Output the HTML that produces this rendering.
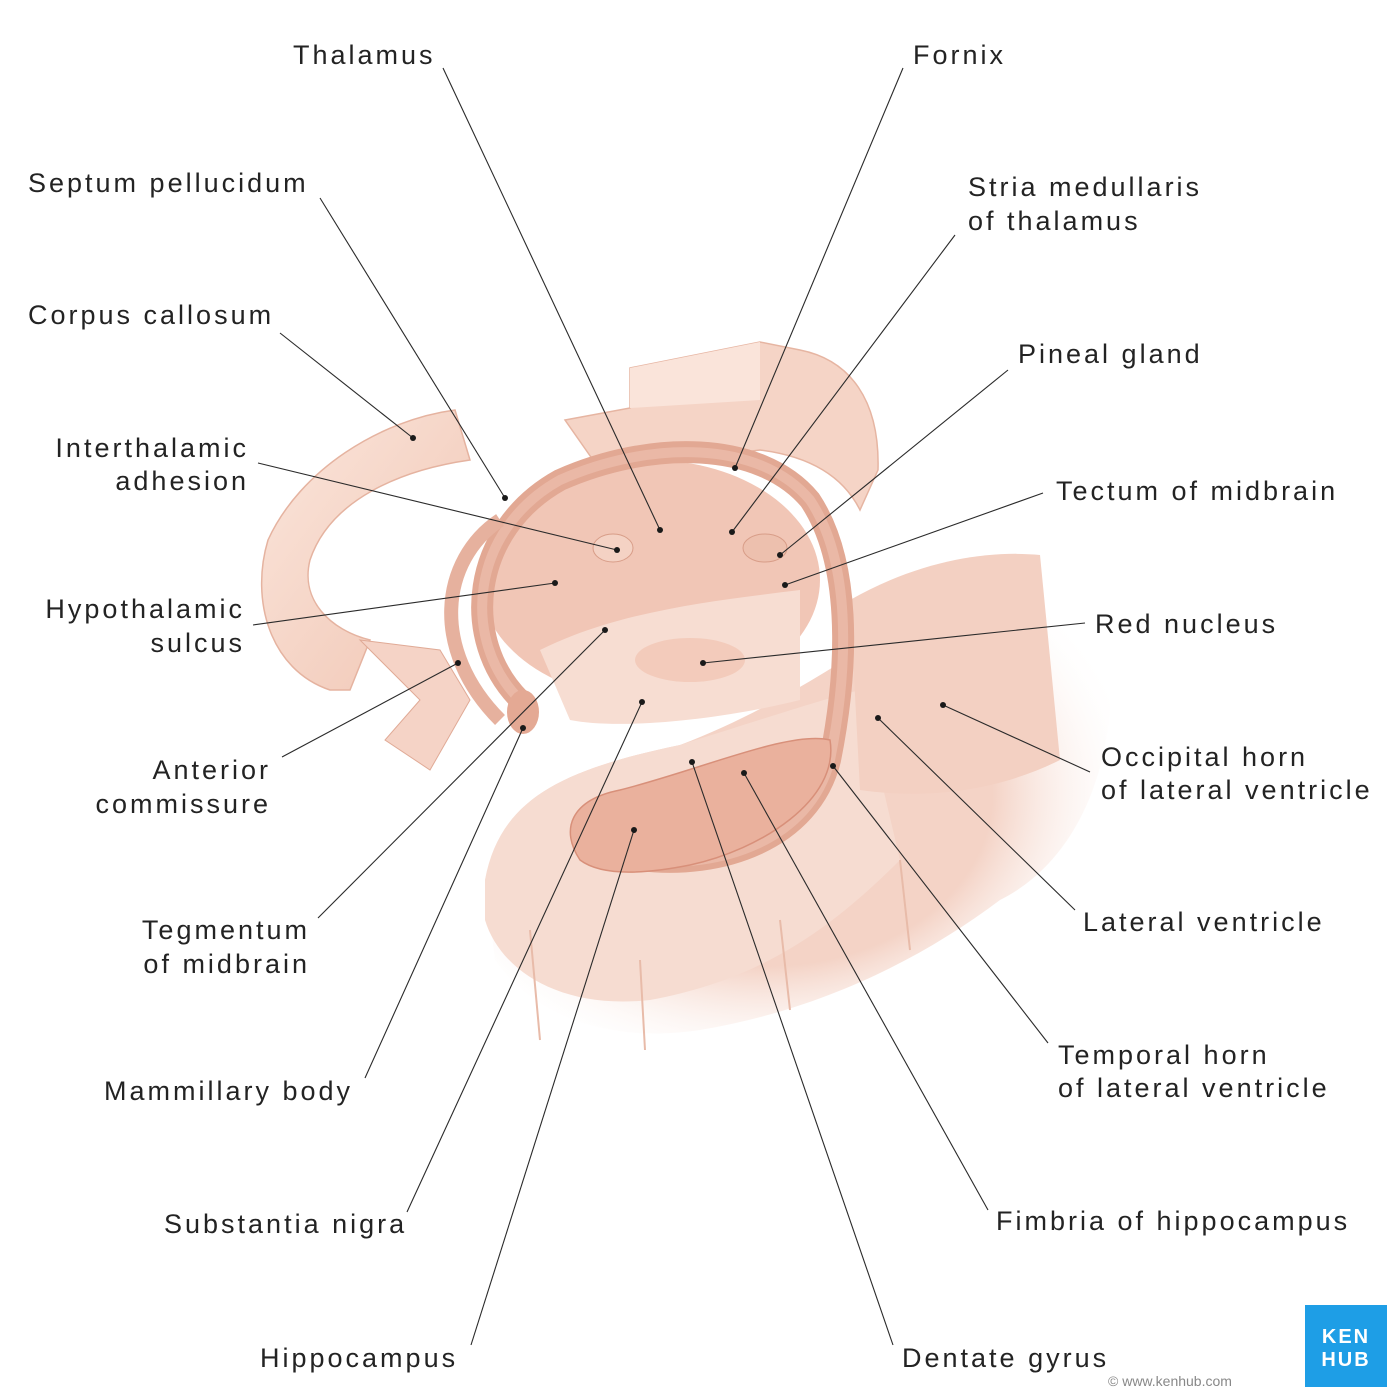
<!DOCTYPE html>
<html><head><meta charset="utf-8"><style>
html,body{margin:0;padding:0;background:#fff;}
svg{display:block;}
text{font-family:"Liberation Sans","DejaVu Sans",sans-serif;font-size:27px;fill:#232323;letter-spacing:3px;}
.l{stroke:#2a2a2a;stroke-width:1.1;fill:none;}
.d{fill:#1a1a1a;}
</style></head><body>
<svg width="1400" height="1400" viewBox="0 0 1400 1400" xmlns="http://www.w3.org/2000/svg">
<defs>
<radialGradient id="fade" cx="0.45" cy="0.5" r="0.6">
<stop offset="0.6" stop-color="#f4d3c6"/><stop offset="1" stop-color="#fff" stop-opacity="0"/>
</radialGradient>
<linearGradient id="cc" x1="0" y1="0" x2="1" y2="1">
<stop offset="0" stop-color="#fbe6dc"/><stop offset="1" stop-color="#f0c5b3"/>
</linearGradient>
</defs>
<path d="M485,880 C500,800 560,770 680,745 C800,700 900,620 1000,560 C1060,540 1100,560 1110,640 C1120,760 1080,860 1000,900 C920,960 820,1010 700,1030 C600,1045 530,1010 495,960 Z" fill="url(#fade)"/>
<path d="M485,880 C500,800 560,770 680,745 C760,720 820,700 860,690 L900,860 C830,930 760,980 650,1000 C560,1010 500,970 485,920 Z" fill="#f6dcd1"/>
<path d="M530,930 L540,1040 M640,960 L645,1050 M780,920 L790,1010 M900,860 L910,950" stroke="#e8bba9" stroke-width="2"/>
<path d="M850,600 C920,560 990,550 1040,555 L1060,760 C1000,790 930,800 860,790 Z" fill="#f3d0c2"/>
<path d="M455,410 C380,420 300,470 268,540 C250,600 270,670 330,690 L350,690 L370,640 C330,630 300,600 310,560 C330,500 400,470 470,460 Z" fill="url(#cc)" stroke="#e5b3a0" stroke-width="1.5"/>
<path d="M360,640 L440,650 L470,700 L430,770 L385,740 L420,700 Z" fill="#f5d3c6" stroke="#e0aa96"/>
<path d="M565,420 L630,408 L630,368 L760,342 L800,350 C850,360 880,400 878,470 L860,510 C840,470 800,455 760,450 L600,470 Z" fill="#f5d4c6" stroke="#e6b5a2" stroke-width="1.5"/>
<path d="M630,368 L760,342 L760,400 L630,408 Z" fill="#fae4da"/>
<ellipse cx="650" cy="580" rx="170" ry="120" fill="#f1c6b6"/>
<path d="M540,650 C620,610 720,600 800,590 L800,700 C720,720 620,730 570,720 Z" fill="#f7ddd2"/>
<ellipse cx="690" cy="660" rx="55" ry="22" fill="#f3cbbb"/>
<path d="M520,700 C460,640 470,530 560,480 C650,440 760,440 810,500 C850,560 850,660 830,760 C810,840 720,870 640,860" fill="none" stroke="#e2a893" stroke-width="22"/>
<path d="M520,700 C460,640 470,530 560,480 C650,440 760,440 810,500 C850,560 850,660 830,760 C810,840 720,870 640,860" fill="none" stroke="#eab8a6" stroke-width="10"/>
<path d="M500,720 C430,650 440,560 500,520" fill="none" stroke="#e6b19e" stroke-width="14"/>
<ellipse cx="613" cy="548" rx="20" ry="14" fill="#f4d2c4" stroke="#d89d88"/>
<ellipse cx="765" cy="548" rx="22" ry="14" fill="#edc0ae" stroke="#d89d88"/>
<ellipse cx="523" cy="712" rx="16" ry="22" fill="#e4a994"/>
<path d="M580,860 C560,830 570,800 620,790 C700,770 790,730 830,740 C840,800 760,850 690,865 C640,875 600,875 580,860 Z" fill="#eab19d" stroke="#d8907a" stroke-width="1.5"/>

<g class="l">
<line x1="443" y1="68" x2="660" y2="530"/>
<line x1="903" y1="68" x2="735" y2="468"/>
<line x1="320" y1="198" x2="505" y2="498"/>
<line x1="955" y1="235" x2="732" y2="532"/>
<line x1="280" y1="333" x2="413" y2="438"/>
<line x1="1008" y1="370" x2="780" y2="555"/>
<line x1="258" y1="463" x2="617" y2="550"/>
<line x1="1043" y1="493" x2="785" y2="585"/>
<line x1="253" y1="625" x2="555" y2="583"/>
<line x1="1085" y1="623" x2="703" y2="663"/>
<line x1="282" y1="757" x2="458" y2="663"/>
<line x1="1090" y1="772" x2="943" y2="705"/>
<line x1="318" y1="918" x2="605" y2="630"/>
<line x1="1075" y1="910" x2="878" y2="718"/>
<line x1="365" y1="1078" x2="523" y2="728"/>
<line x1="1048" y1="1043" x2="833" y2="766"/>
<line x1="407" y1="1212" x2="642" y2="702"/>
<line x1="988" y1="1210" x2="744" y2="773"/>
<line x1="471" y1="1345" x2="634" y2="830"/>
<line x1="893" y1="1345" x2="692" y2="762"/>
</g>
<g class="d">
<circle cx="660" cy="530" r="3"/><circle cx="735" cy="468" r="3"/><circle cx="505" cy="498" r="3"/>
<circle cx="732" cy="532" r="3"/><circle cx="413" cy="438" r="3"/><circle cx="780" cy="555" r="3"/>
<circle cx="617" cy="550" r="3"/><circle cx="785" cy="585" r="3"/><circle cx="555" cy="583" r="3"/>
<circle cx="703" cy="663" r="3"/><circle cx="458" cy="663" r="3"/><circle cx="943" cy="705" r="3"/>
<circle cx="605" cy="630" r="3"/><circle cx="878" cy="718" r="3"/><circle cx="523" cy="728" r="3"/>
<circle cx="833" cy="766" r="3"/><circle cx="642" cy="702" r="3"/><circle cx="744" cy="773" r="3"/>
<circle cx="634" cy="830" r="3"/><circle cx="692" cy="762" r="3"/>
</g>

<text x="293" y="64">Thalamus</text>
<text x="913" y="64">Fornix</text>
<text x="28" y="192">Septum pellucidum</text>
<text x="968" y="196">Stria medullaris</text>
<text x="968" y="230">of thalamus</text>
<text x="28" y="324">Corpus callosum</text>
<text x="1018" y="363">Pineal gland</text>
<text x="249" y="457" text-anchor="end">Interthalamic</text>
<text x="249" y="490" text-anchor="end">adhesion</text>
<text x="1056" y="500">Tectum of midbrain</text>
<text x="245" y="618" text-anchor="end">Hypothalamic</text>
<text x="245" y="652" text-anchor="end">sulcus</text>
<text x="1095" y="633">Red nucleus</text>
<text x="271" y="779" text-anchor="end">Anterior</text>
<text x="271" y="813" text-anchor="end">commissure</text>
<text x="1101" y="766">Occipital horn</text>
<text x="1101" y="799">of lateral ventricle</text>
<text x="310" y="939" text-anchor="end">Tegmentum</text>
<text x="310" y="973" text-anchor="end">of midbrain</text>
<text x="1083" y="931">Lateral ventricle</text>
<text x="104" y="1100">Mammillary body</text>
<text x="1058" y="1064">Temporal horn</text>
<text x="1058" y="1097">of lateral ventricle</text>
<text x="164" y="1233">Substantia nigra</text>
<text x="996" y="1230">Fimbria of hippocampus</text>
<text x="260" y="1367">Hippocampus</text>
<text x="902" y="1367">Dentate gyrus</text>

<rect x="1305" y="1305" width="82" height="82" fill="#1e9ee6"/>
<text x="1346" y="1343" text-anchor="middle" style="fill:#fff;font-size:20px;font-weight:bold;letter-spacing:2px">KEN</text>
<text x="1346" y="1366" text-anchor="middle" style="fill:#fff;font-size:20px;font-weight:bold;letter-spacing:2px">HUB</text>
<text x="1108" y="1386" style="font-size:14px;fill:#888;letter-spacing:0">© www.kenhub.com</text>
</svg>
</body></html>
